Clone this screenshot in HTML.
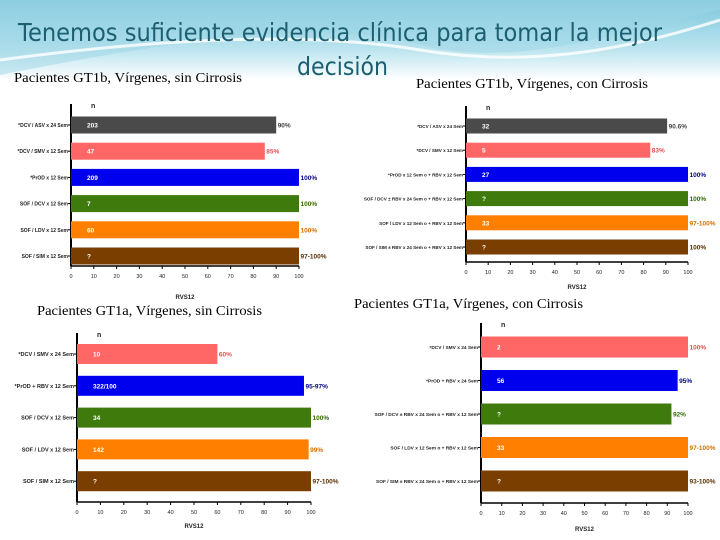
<!DOCTYPE html>
<html><head><meta charset="utf-8"><style>
body{margin:0;width:720px;height:540px;overflow:hidden;background:#fff;font-family:"Liberation Sans",sans-serif}
svg{position:absolute;left:0;top:0}
</style></head><body>
<svg width="720" height="540" viewBox="0 0 720 540">
<defs>
<linearGradient id="bg" x1="0" y1="0" x2="0" y2="1">
<stop offset="0" stop-color="#7cc7dc"/><stop offset="0.6" stop-color="#b9e3ee"/><stop offset="1" stop-color="#ffffff"/>
</linearGradient>
</defs>
<rect x="0" y="0" width="720" height="80" fill="url(#bg)"/>
<path d="M0 75 C200 35 330 20 420 45 C520 70 620 30 720 10 L720 0 L0 0 Z" fill="#9dd6e6" opacity="0.5"/>
<path d="M0 60 C150 40 300 30 420 50 C540 70 640 45 720 20" fill="none" stroke="#ffffff" stroke-width="3" opacity="0.8"/>
<rect x="0" y="80" width="720" height="460" fill="#fff"/>
<text x="18" y="41" textLength="644" lengthAdjust="spacingAndGlyphs" font-family="'DejaVu Sans',sans-serif" font-size="25" fill="#1b5f70">Tenemos suficiente evidencia clínica para tomar la mejor</text>
<text x="297" y="75" textLength="91" lengthAdjust="spacingAndGlyphs" font-family="'DejaVu Sans',sans-serif" font-size="25" fill="#1b5f70">decisión</text>
<g font-family="'Liberation Serif',serif" font-size="14" fill="#000">
<text x="14" y="82" textLength="228" lengthAdjust="spacingAndGlyphs">Pacientes GT1b, Vírgenes, sin Cirrosis</text>
<text x="416" y="88" textLength="232" lengthAdjust="spacingAndGlyphs">Pacientes GT1b, Vírgenes, con Cirrosis</text>
<text x="37" y="315" textLength="225" lengthAdjust="spacingAndGlyphs">Pacientes GT1a, Vírgenes, sin Cirrosis</text>
<text x="354" y="308" textLength="229" lengthAdjust="spacingAndGlyphs">Pacientes GT1a, Vírgenes, con Cirrosis</text>
</g>
<g id="charts"></g>
</svg>
<script>
const c1Labels=["*DCV / ASV x 24 Sem","*DCV / SMV x 12 Sem","*PrOD x 12 Sem","SOF / DCV x 12 Sem","SOF / LDV x 12 Sem","SOF / SIM x 12 Sem"];
const c1Values=[90,85,100,100,100,100];
const c1N=["203","47","209","7","60","?"];
const c1Pct=["90%","85%","100%","100%","100%","97-100%"];
const c2Labels=["*DCV / ASV x 24 Sem","*DCV / SMV x 12 Sem","*PrOD x 12 Sem o + RBV x 12 Sem","SOF / DCV ± RBV x 24 Sem o + RBV x 12 Sem","SOF / LDV x 12 Sem o + RBV x 12 Sem","SOF / SIM ± RBV x 24 Sem o + RBV x 12 Sem"];
const c2Values=[90.6,83,100,100,100,100];
const c2N=["32","5","27","?","33","?"];
const c2Pct=["90.6%","83%","100%","100%","97-100%","100%"];
const c3Labels=["*DCV / SMV x 24 Sem","*PrOD + RBV x 12 Sem","SOF / DCV x 12 Sem","SOF / LDV x 12 Sem","SOF / SIM x 12 Sem"];
const c3Values=[60,97,100,99,100];
const c3N=["10","322/100","34","142","?"];
const c3Pct=["60%","95-97%","100%","99%","97-100%"];
const c4Labels=["*DCV / SMV x 24 Sem","*PrOD + RBV x 24 Sem","SOF / DCV ± RBV x 24 Sem o + RBV x 12 Sem","SOF / LDV x 12 Sem o + RBV x 12 Sem","SOF / SIM ± RBV x 24 Sem o + RBV x 12 Sem"];
const c4Values=[100,95,92,100,100];
const c4N=["2","56","?","33","?"];
const c4Pct=["100%","95%","92%","97-100%","93-100%"];
const xTicks=[0,10,20,30,40,50,60,70,80,90,100];
const c6Colors=["#4a4a4a","#ff6666","#0000ee","#3f7a0c","#ff8000","#7a3f00"];
const c5Colors=["#ff6666","#0000ee","#3f7a0c","#ff8000","#7a3f00"];
const pctColors={"#4a4a4a":"#444","#ff6666":"#e05050","#0000ee":"#000080","#3f7a0c":"#2f6a00","#ff8000":"#d07000","#7a3f00":"#5a2f00"};
const NS="http://www.w3.org/2000/svg";
const root=document.getElementById('charts');
function mk(tag,attrs,parent){const e=document.createElementNS(NS,tag);for(const k in attrs)e.setAttribute(k,attrs[k]);parent.appendChild(e);return e;}
function chart(id,labels,values,ns,pcts,colors,g){
  const grp=mk('g',{},root);
  
  
  const xs=v=>g.x0+(g.x1-g.x0)*v/100;
  const ys=i=>g.yTop+i*g.step;
  const ax=mk('line',{x1:g.x0,x2:g.x0,y1:g.axTop,y2:g.axBot,stroke:'#000','stroke-width':2},grp);
  
  
  const bx=mk('line',{x1:g.x0,x2:g.x1,y1:g.axBot,y2:g.axBot,stroke:'#000','stroke-width':1.5},grp);
  
  
  xTicks.forEach(t=>{
    mk('line',{x1:xs(t),x2:xs(t),y1:g.axBot,y2:g.axBot+3,stroke:'#000'},grp);
    const tl=mk('text',{x:xs(t),y:g.axBot+12,'text-anchor':'middle','font-size':5.5,fill:'#222'},grp);
    tl.textContent=t;
    
    
  });
  const xt=mk('text',{x:(g.x0+g.x1)/2,y:g.axBot+g.titleDy,'text-anchor':'middle','font-size':6,'font-weight':'bold',fill:'#222'},grp);
  xt.textContent='RVS12';
  
  
  const nl=mk('text',{x:g.x0+20,y:g.axTop+4,'font-size':7,'font-weight':'bold',fill:'#222'},grp);
  nl.textContent='n';
  
  
  labels.forEach((lab,i)=>{
    const y=ys(i);
    const b=mk('rect',{x:g.x0,y:y-g.bh/2,width:xs(values[i])-g.x0,height:g.bh,fill:colors[i]},grp);
    
    
    mk('line',{x1:g.x0-3,x2:g.x0,y1:y,y2:y,stroke:'#000'},grp);
    const l=mk('text',{x:g.x0-3,y:y+2,'text-anchor':'end','font-size':g.fs,'font-weight':'bold',fill:'#222'},grp);
    l.textContent=lab;
    
    
    const n=mk('text',{x:g.x0+16,y:y+2.5,'font-size':6.5,'font-weight':'bold',fill:'#fff'},grp);
    n.textContent=ns[i];
    
    
    const p=mk('text',{x:xs(values[i])+1.5,y:y+2.5,'font-size':6.5,'font-weight':'bold',fill:pctColors[colors[i]]},grp);
    p.textContent=pcts[i];
    
    
  });
}
chart('chart-gt1b-sin-cirrosis',c1Labels,c1Values,c1N,c1Pct,c6Colors,{x0:71,x1:299,yTop:125,step:26.2,bh:17,axTop:104,axBot:266,titleDy:33,fs:5});
chart('chart-gt1b-con-cirrosis',c2Labels,c2Values,c2N,c2Pct,c6Colors,{x0:466,x1:688,yTop:126,step:24.2,bh:15,axTop:106,axBot:262,titleDy:27,fs:4.6});
chart('chart-gt1a-sin-cirrosis',c3Labels,c3Values,c3N,c3Pct,c5Colors,{x0:77,x1:311,yTop:354,step:31.8,bh:20,axTop:333,axBot:502,titleDy:26,fs:5.5});
chart('chart-gt1a-con-cirrosis',c4Labels,c4Values,c4N,c4Pct,c5Colors,{x0:481,x1:688,yTop:347,step:33.5,bh:21,axTop:323,axBot:503,titleDy:28,fs:4.8});
</script>
</body></html>
